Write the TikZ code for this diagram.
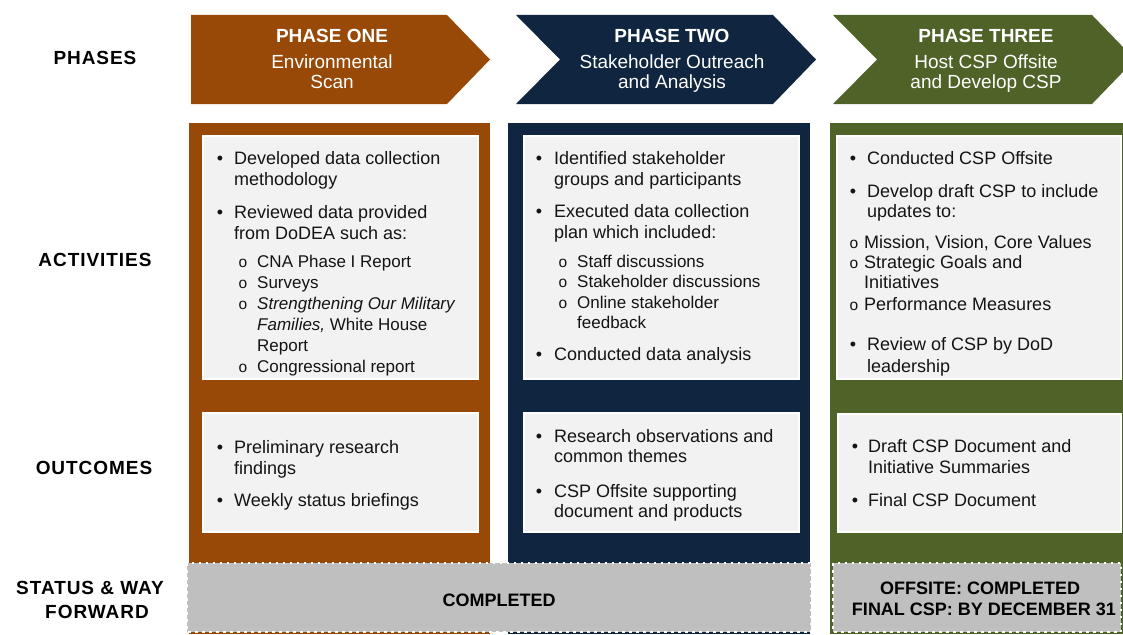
\documentclass[tikz,border=0pt]{standalone}
\usepackage{fontspec}
\setmainfont{Liberation Sans}
\definecolor{cbrown}{HTML}{984807}
\definecolor{cnavy}{HTML}{10253F}
\definecolor{cgreen}{HTML}{4F6228}
\definecolor{cpanel}{HTML}{F2F2F2}
\definecolor{cstatus}{HTML}{BFBFBF}
\definecolor{ctext}{HTML}{141414}
\newfontfamily\lblfont{Liberation Sans}[LetterSpace=5]
\tikzset{
  txt/.style={anchor=base west, inner sep=0pt, text=ctext, font=\fontsize{18}{21}\selectfont},
  subtxt/.style={txt, font=\fontsize{17}{21}\selectfont},
  subtxtb/.style={txt},
  bulsty/.style={anchor=base, inner sep=0pt, text=ctext, font=\fontsize{18}{21}\selectfont},
  subbul/.style={anchor=base, inner sep=0pt, text=ctext, font=\fontsize{15.5}{21}\selectfont},
  panel/.style={fill=cpanel, draw=white, line width=1.6pt},
  statusbox/.style={fill=cstatus, draw=white, line width=1.6pt, dash pattern=on 2.5pt off 4.5pt},
  head/.style={anchor=base, inner sep=0pt, text=white, font=\bfseries\fontsize{19}{20}\selectfont},
  headsub/.style={anchor=base, inner sep=0pt, text=white, font=\fontsize{19}{20}\selectfont},
  rowlbl/.style={anchor=base, inner sep=0pt, text=black, font=\lblfont\bfseries\fontsize{19}{20}\selectfont},
  stat/.style={anchor=base, inner sep=0pt, text=black, font=\bfseries\fontsize{18}{21}\selectfont},
}
% helpers: name, bullet x, text x, baseline, text
\newcommand{\myB}[5]{\node[bulsty] (#1-b) at (#2,#4) {•};\node[txt] (#1) at (#3,#4) {#5};}
\newcommand{\myT}[4]{\node[txt] (#1) at (#2,#3) {#4};}
\newcommand{\myS}[5]{\node[subbul] (#1-b) at (#2,#4) {o};\node[subtxt] (#1) at (#3,#4) {#5};}
\newcommand{\mySL}[4]{\node[subtxt] (#1) at (#2,#3) {#4};}
\newcommand{\mySB}[5]{\node[subbul] (#1-b) at (#2,#4) {o};\node[subtxtb] (#1) at (#3,#4) {#5};}
\newcommand{\mySBL}[4]{\node[subtxtb] (#1) at (#2,#3) {#4};}
\begin{document}
\begin{tikzpicture}[x=1pt,y=-1pt]
\useasboundingbox (0,0) rectangle (1123,634);
\clip (0,0) rectangle (1123,634);
\fill[white] (0,0) rectangle (1123,634);

% chevrons
\fill[cbrown] (191,15) -- (447,15) -- (490,59.5) -- (447,104) -- (191,104) -- cycle;
\fill[cnavy] (516,15) -- (773,15) -- (816,59.5) -- (773,104) -- (516,104) -- (560,59.5) -- cycle;
\fill[cgreen] (833,15) -- (1092,15) -- (1135,59.5) -- (1092,104) -- (833,104) -- (877,59.5) -- cycle;

\node[head] (p1a) at (332,42) {PHASE ONE};
\node[headsub] (p1b) at (332,68) {Environmental};
\node[headsub] (p1c) at (332,88) {Scan};
\node[head] (p2a) at (672,42) {PHASE TWO};
\node[headsub] (p2b) at (672,68) {Stakeholder Outreach};
\node[headsub] (p2c) at (672,88) {and Analysis};
\node[head] (p3a) at (986,42) {PHASE THREE};
\node[headsub] (p3b) at (986,68) {Host CSP Offsite};
\node[headsub] (p3c) at (986,88) {and Develop CSP};

% row labels
\node[rowlbl] (lphases) at (95,64) {PHASES};
\node[rowlbl] (lact) at (95,266) {ACTIVITIES};
\node[rowlbl] (lout) at (94,474) {OUTCOMES};
\node[rowlbl] (lstat1) at (90,594) {STATUS \& WAY};
\node[rowlbl] (lstat2) at (97,618) {FORWARD};

% columns
\fill[cbrown] (189,123) rectangle (490,634);
\fill[cnavy] (508,123) rectangle (810,634);
\fill[cgreen] (830,123) rectangle (1123,634);

% activity panels
\draw[panel] (203,136) rectangle (478,379);
\draw[panel] (524,136) rectangle (799,379);
\draw[panel] (837,136) rectangle (1121,379);

% outcome panels
\draw[panel] (203,413) rectangle (478,532);
\draw[panel] (524,413) rectangle (799,532);
\draw[panel] (838,414) rectangle (1121,532);

% column 1 activities
\myB{a1i1}{220}{234}{164}{Developed data collection}
\myT{a1i1b}{234}{185}{methodology}
\myB{a1i2}{220}{234}{218}{Reviewed data provided}
\myT{a1i2b}{234}{239}{from DoDEA such as:}
\myS{a1s1}{243}{257}{267}{CNA Phase I Report}
\myS{a1s2}{243}{257}{288}{Surveys}
\myS{a1s3}{243}{257}{309}{\itshape Strengthening Our Military}
\mySL{a1s3b}{257}{330}{{\itshape Families,} White House}
\mySL{a1s3c}{257}{351}{Report}
\myS{a1s4}{243}{257}{372}{Congressional report}

% column 2 activities
\myB{a2i1}{539}{554}{164}{Identified stakeholder}
\myT{a2i1b}{554}{185}{groups and participants}
\myB{a2i2}{539}{554}{217}{Executed data collection}
\myT{a2i2b}{554}{238}{plan which included:}
\myS{a2s1}{563}{577}{267}{Staff discussions}
\myS{a2s2}{563}{577}{287}{Stakeholder discussions}
\myS{a2s3}{563}{577}{308}{Online stakeholder}
\mySL{a2s3b}{577}{328}{feedback}
\myB{a2i3}{539}{554}{360}{Conducted data analysis}

% column 3 activities
\myB{a3i1}{853}{867}{164}{Conducted CSP Offsite}
\myB{a3i2}{853}{867}{197}{Develop draft CSP to include}
\myT{a3i2b}{867}{217}{updates to:}
\mySB{a3s1}{854}{864}{248}{Mission, Vision, Core Values}
\mySB{a3s2}{854}{864}{268}{Strategic Goals and}
\mySBL{a3s2b}{864}{288}{Initiatives}
\mySB{a3s3}{854}{864}{310}{Performance Measures}
\myB{a3i3}{853}{867}{350}{Review of CSP by DoD}
\myT{a3i3b}{867}{372}{leadership}

% outcomes
\myB{o1i1}{220}{234}{453}{Preliminary research}
\myT{o1i1b}{234}{474}{findings}
\myB{o1i2}{220}{234}{506}{Weekly status briefings}

\myB{o2i1}{539}{554}{442}{Research observations and}
\myT{o2i1b}{554}{462}{common themes}
\myB{o2i2}{539}{554}{497}{CSP Offsite supporting}
\myT{o2i2b}{554}{517}{document and products}

\myB{o3i1}{855}{868}{452}{Draft CSP Document and}
\myT{o3i1b}{868}{473}{Initiative Summaries}
\myB{o3i2}{855}{868}{506}{Final CSP Document}

% status
\draw[statusbox] (187,563) rectangle (811,632);
\draw[statusbox] (833,563) rectangle (1121,632);
\node[stat] (s1) at (499,606) {COMPLETED};
\node[stat] (s2a) at (980,594) {OFFSITE: COMPLETED};
\node[stat] (s2b) at (984,615) {FINAL CSP: BY DECEMBER 31};
\end{tikzpicture}
\end{document}
